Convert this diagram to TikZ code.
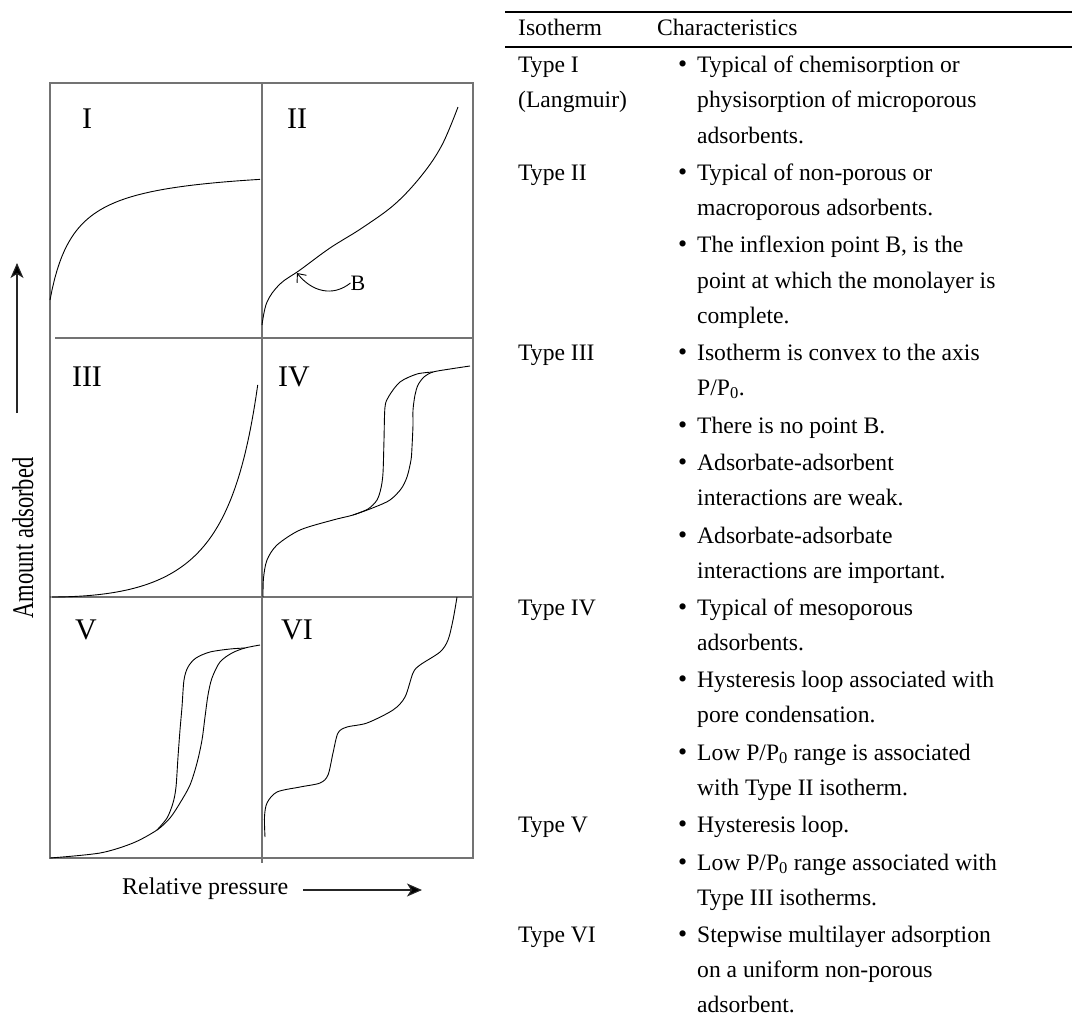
\documentclass[tikz,border=0pt]{standalone}
\usepackage{graphicx}
\usepackage{fontspec}
\setmainfont{Liberation Serif}
\usetikzlibrary{arrows.meta}
\begin{document}
\begin{tikzpicture}[x=1pt,y=-1pt,
  frame/.style={draw=black!55, line width=1.2pt},
  curve/.style={draw=black, line width=0.9pt, line join=round},
  roman/.style={font=\fontsize{30}{30}\selectfont, inner sep=0pt},
  txt/.style={font=\fontsize{23.6}{28}\selectfont, inner sep=0pt, anchor=base west},
  axislbl/.style={font=\fontsize{24}{28}\selectfont, inner sep=0pt},
  axisarrow/.style={draw=black!85, line width=1.1pt, -{Stealth[length=15pt,width=13pt,inset=4pt,fill=black]}},
  tablerule/.style={draw=black, line width=1.8pt},
]
\useasboundingbox (0,0) rectangle (1072,1021);

% ---------- frame of the six panels ----------
\draw[frame] (50,83) rectangle (473,858);
\draw[frame] (262,83) -- (262,863);
\draw[frame] (55,338) -- (472,338);
\draw[frame] (52,597) -- (472,597);

% ---------- panel labels ----------
\node[roman] (lI)   at (87,119)  {I};
\node[roman] (lII)  at (297,119) {II};
\node[roman] (lIII) at (87,377)  {III};
\node[roman] (lIV)  at (294,377) {IV};
\node[roman] (lV)   at (86,630)  {V};
\node[roman] (lVI)  at (297,630) {VI};

% ---------- Type I ----------
\draw[curve] plot[domain=0:210, samples=90] ({50+\x},{300-135*0.04*\x/(1+0.04*\x)});

% ---------- Type II ----------
\draw[curve] plot[smooth, tension=0.6] coordinates {(262,325) (267,302) (280,284) (300,270) (330,248) (362,228) (395,204) (422,175) (442,145) (458,107)};
\node[font=\fontsize{22}{26}\selectfont, inner sep=0pt] (B) at (358,283) {B};
\coordinate (Btip) at (297,273);
\draw[curve, -{Straight Barb[length=7pt,width=12pt]}] (B.west) .. controls (333,297) and (312,292) .. (Btip);

% ---------- Type III ----------
\draw[curve] plot[domain=0:1, samples=120] ({50+208*\x},{597-214*0.2*\x*\x/(1.2-\x)});

% ---------- Type IV ----------
\draw[curve] plot[smooth, tension=0.5] coordinates {(263,597) (263.5,578) (267,560) (277,545) (300,530) (333,520) (353,515) (375,507) (390,500) (401,489) (407,477) (411,460) (412,447) (413,425) (413,410) (415,395) (418,385) (424,377) (433,372) (450,369) (470,366)};
\draw[curve] plot[smooth, tension=0.5] coordinates {(353,515) (368,509) (377,500) (381,488) (383,473) (384,440) (385,407) (389,396) (400,382) (417,374) (433,372)};

% ---------- Type V ----------
\draw[curve] plot[smooth, tension=0.5] coordinates {(50,858) (100,853) (133,843) (157,830) (170,818) (180,803) (190,785) (197,763) (202,740) (205,717) (208,695) (212,678) (220,662) (232,653) (245,648) (260,645)};
\draw[curve] plot[smooth, tension=0.5] coordinates {(157,830) (167,818) (173,803) (176,787) (178,757) (180,730) (182,707) (184,680) (188,667) (196,658) (210,652) (230,649) (245,648)};

% ---------- Type VI ----------
\draw[curve] plot[smooth, tension=0.5] coordinates {(265,837) (264.5,817) (267,803) (277,792) (300,787) (320,783) (328,775) (333,753) (338,733) (347,727) (367,723) (393,710) (405,697) (413,673) (420,665) (440,652) (448,640) (453,620) (457,597)};

% ---------- axes ----------
\coordinate (ya0) at (17,413);
\coordinate (ya1) at (17,263);
\draw[axisarrow] (ya0) -- (ya1);
\node[font=\fontsize{30}{34}\selectfont, inner sep=0pt, rotate=90, anchor=base] (ylab) at (33,538) {\scalebox{0.75}[1]{Amount adsorbed}};

\node[axislbl, anchor=base west] (xlab) at (122,894) {Relative pressure};
\coordinate (xa0) at (303,890);
\coordinate (xa1) at (422,890);
\draw[axisarrow] (xa0) -- (xa1);

% ---------- table ----------
\coordinate (r1a) at (505,12);  \coordinate (r1b) at (1072,12);
\coordinate (r2a) at (505,47);  \coordinate (r2b) at (1072,47);
\draw[tablerule] (r1a) -- (r1b);
\draw[tablerule] (r2a) -- (r2b);

\node[txt] (h1) at (518,35) {Isotherm};
\node[txt] (h2) at (657,35) {Characteristics};

\node[txt] (ty1)  at (518,72)  {Type I};
\node[txt] (ty1b) at (518,107) {(Langmuir)};
\node[txt] (ty2)  at (518,180) {Type II};
\node[txt] (ty3)  at (518,360) {Type III};
\node[txt] (ty4)  at (518,615) {Type IV};
\node[txt] (ty5)  at (518,832) {Type V};
\node[txt] (ty6)  at (518,942) {Type VI};

\foreach \y [count=\i] in {72,180,252,360,433,470,543,615,687,760,832,870,942}
  \node[txt, font=\fontsize{26}{28}\selectfont] (bul\i) at (678,\y) {\textbullet};

\foreach \y/\t [count=\i] in {
  72/{Typical of chemisorption or},
  107/{physisorption of microporous},
  143/{adsorbents.},
  180/{Typical of non-porous or},
  215/{macroporous adsorbents.},
  252/{The inflexion point B, is the},
  288/{point at which the monolayer is},
  323/{complete.},
  360/{Isotherm is convex to the axis},
  395/{P/P\textsubscript{0}.},
  433/{There is no point B.},
  470/{Adsorbate-adsorbent},
  505/{interactions are weak.},
  543/{Adsorbate-adsorbate},
  578/{interactions are important.},
  615/{Typical of mesoporous},
  650/{adsorbents.},
  687/{Hysteresis loop associated with},
  722/{pore condensation.},
  760/{Low P/P\textsubscript{0} range is associated},
  795/{with Type II isotherm.},
  832/{Hysteresis loop.},
  870/{Low P/P\textsubscript{0} range associated with},
  905/{Type III isotherms.},
  942/{Stepwise multilayer adsorption},
  977/{on a uniform non-porous},
  1012/{adsorbent.}}
  \node[txt] (ch\i) at (697,\y) {\t};
\end{tikzpicture}
\end{document}
